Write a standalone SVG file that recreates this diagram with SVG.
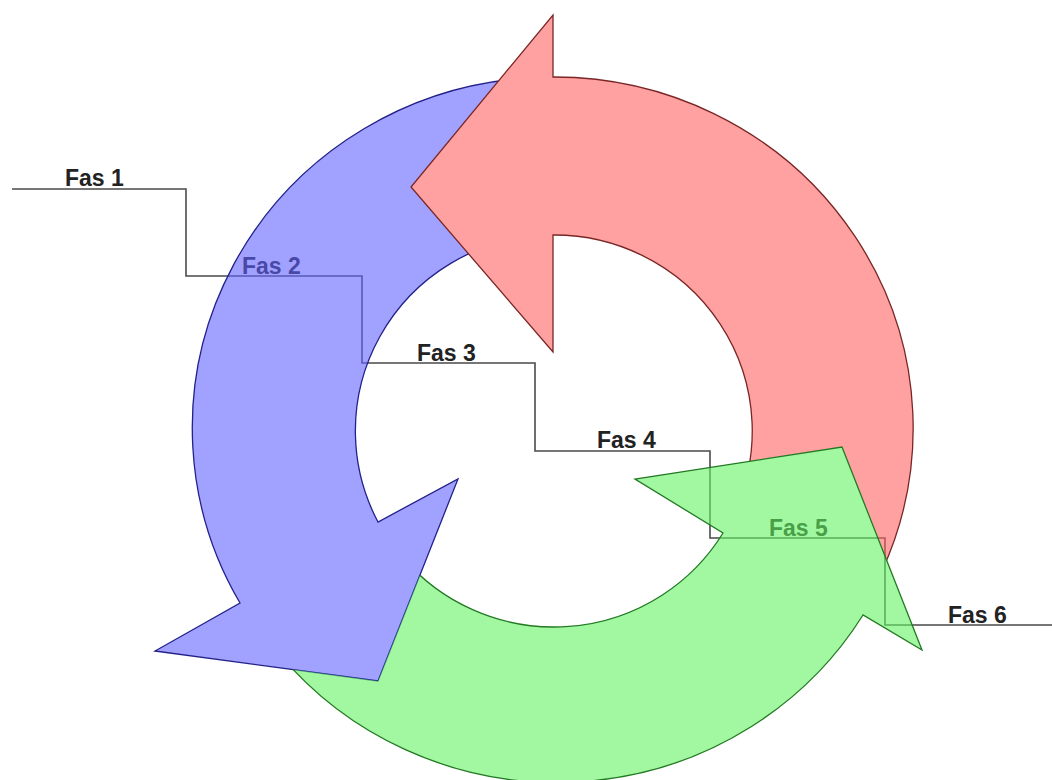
<svg xmlns="http://www.w3.org/2000/svg" xmlns:xlink="http://www.w3.org/1999/xlink" width="1052" height="780" viewBox="0 0 1052 780">
  <style>
    .step { fill: none; stroke: #4a4a4a; stroke-width: 1.6; }
    .lbl { font-family: "Liberation Sans", Arial, sans-serif; font-weight: bold; font-size: 23px; fill: #222; }
    .red { fill: #ff6363; fill-opacity: 0.6; stroke: #7a2626; stroke-width: 1.3; stroke-linejoin: miter; }
    .blue { fill: #6363ff; fill-opacity: 0.6; stroke: #22228a; stroke-width: 1.3; stroke-linejoin: miter; }
    .green { fill: #63f363; fill-opacity: 0.6; stroke: #237a23; stroke-width: 1.3; stroke-linejoin: miter; }
  </style>
  <defs>
    <path id="pRed" d="M 882,571 A 359 351 0 0 0 553,77 L 553,15 L 411,187 L 553,352 L 553,235 A 198 196 0 0 1 735,511 Z"/>
    <path id="pBlue" d="M 522.7,78.3 A 359 351 0 0 0 240,603 L 155,651 L 378,681 L 458,479 L 378,522 A 198 196 0 0 1 536.7,235.7 Z"/>
    <path id="pGreen" d="M 279,653.6 A 359 351 0 0 0 863,615 L 922,650 L 842,447 L 635,479 L 723,533 A 198 196 0 0 1 402.3,557 Z"/>
    <mask id="mBlue" maskUnits="userSpaceOnUse" x="0" y="0" width="1052" height="780">
      <rect x="0" y="0" width="1052" height="780" fill="#fff"/>
      <use xlink:href="#pRed" href="#pRed" fill="#000"/>
    </mask>
    <mask id="mRed" maskUnits="userSpaceOnUse" x="0" y="0" width="1052" height="780">
      <rect x="0" y="0" width="1052" height="780" fill="#fff"/>
      <use xlink:href="#pGreen" href="#pGreen" fill="#000"/>
    </mask>
    <mask id="mGreen" maskUnits="userSpaceOnUse" x="0" y="0" width="1052" height="780">
      <rect x="0" y="0" width="1052" height="780" fill="#fff"/>
      <use xlink:href="#pBlue" href="#pBlue" fill="#000"/>
    </mask>
  </defs>

  <g id="connectors">
    <path class="step" d="M 12,189 H 186 V 276 H 362 V 363 H 535 V 451 H 710 V 538 H 885 V 625 H 1052"/>
  </g>

  <g id="label-fas1"><text class="lbl" x="65" y="186">Fas 1</text></g>
  <g id="label-fas2"><text class="lbl" x="242" y="274">Fas 2</text></g>
  <g id="label-fas3"><text class="lbl" x="417" y="361">Fas 3</text></g>
  <g id="label-fas4"><text class="lbl" x="597" y="448">Fas 4</text></g>
  <g id="label-fas5"><text class="lbl" x="769" y="536">Fas 5</text></g>
  <g id="label-fas6"><text class="lbl" x="948" y="623">Fas 6</text></g>

  <g id="arrow-blue" mask="url(#mBlue)">
    <use xlink:href="#pBlue" href="#pBlue" class="blue"/>
  </g>
  <g id="arrow-red" mask="url(#mRed)">
    <use xlink:href="#pRed" href="#pRed" class="red"/>
  </g>
  <g id="arrow-green" mask="url(#mGreen)">
    <use xlink:href="#pGreen" href="#pGreen" class="green"/>
  </g>
</svg>
